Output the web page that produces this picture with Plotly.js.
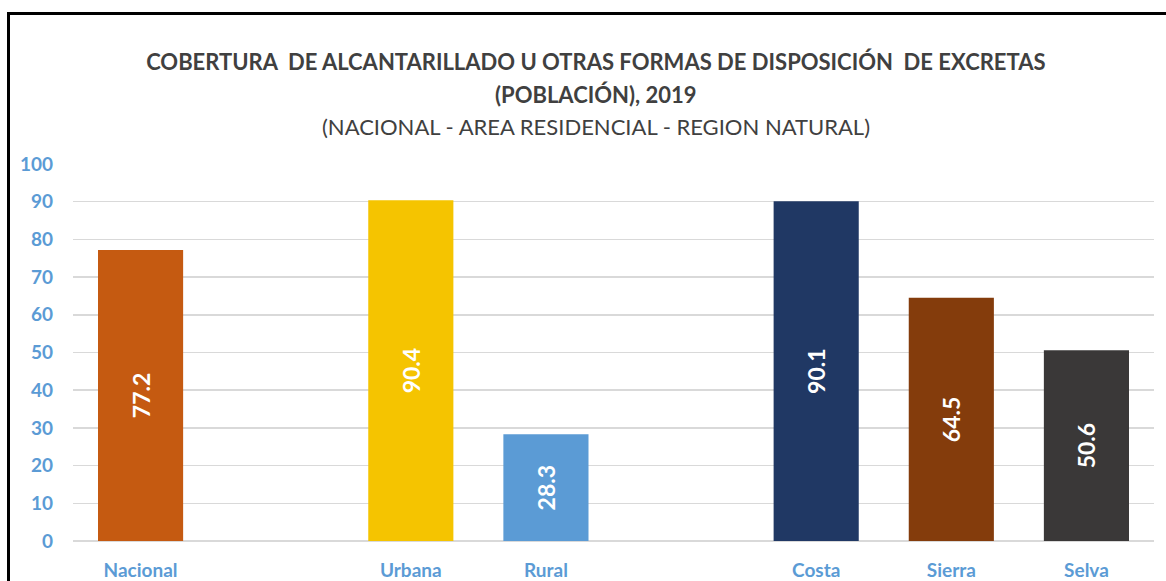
<!DOCTYPE html>
<html>
<head>
<meta charset="utf-8">
<script src="https://cdn.plot.ly/plotly-3.0.1.min.js"></script>
<style>
  html, body { margin: 0; padding: 0; background: #fff; overflow: hidden; }
  #chart { width: 1166px; height: 581px; }
  #frame { position: absolute; left: 7px; top: 12px; width: 1300px; height: 700px;
           border-left: 3px solid #000; border-top: 3px solid #000; pointer-events: none; }
</style>
</head>
<body>
<div id="chart"></div>
<div id="frame"></div>
<script>
// Data
const categories = ["Nacional", " ", "Urbana", "Rural", "  ", "Costa", "Sierra", "Selva"];
const barCategories = ["Nacional", "Urbana", "Rural", "Costa", "Sierra", "Selva"];
const barValues = [77.2, 90.4, 28.3, 90.1, 64.5, 50.6];
const barColors = ["#C55A11", "#F5C400", "#5B9BD5", "#203864", "#843C0C", "#3A3838"];
const yTicks = [0, 10, 20, 30, 40, 50, 60, 70, 80, 90, 100];

const titleLine1 = "COBERTURA\u00a0 DE ALCANTARILLADO U OTRAS FORMAS DE DISPOSICIÓN\u00a0 DE EXCRETAS";
const titleLine2 = "(POBLACIÓN), 2019";
const titleLine3 = "(NACIONAL - AREA RESIDENCIAL - REGION NATURAL)";

const FONT = "Lato, 'Open Sans', 'DejaVu Sans', sans-serif";
const BLUE = "#5B9BD5";
const TITLE_COLOR = "#404040";

const trace = {
  type: "bar",
  x: barCategories,
  y: barValues,
  marker: { color: barColors, line: { width: 0 } },
  text: barValues.map(v => v.toFixed(1)),
  texttemplate: "<b>%{text}</b>",
  textposition: "inside",
  insidetextanchor: "middle",
  textangle: -90,
  textfont: { family: FONT, size: 23, color: "#FFFFFF" },
  hoverinfo: "x+y",
  cliponaxis: false
};

const layout = {
  width: 1166,
  height: 581,
  paper_bgcolor: "#FFFFFF",
  plot_bgcolor: "#FFFFFF",
  margin: { l: 73, r: 12, t: 164, b: 40, pad: 0 },
  showlegend: false,
  bargap: 0.37,
  font: { family: FONT },
  title: {
    text: "<b>" + titleLine1 + "</b>",
    font: { family: FONT, size: 22, color: TITLE_COLOR },
    x: 0.511, xref: "container", xanchor: "center",
    y: 1 - 62 / 581, yref: "container", yanchor: "middle"
  },
  annotations: [
    {
      text: "<b>" + titleLine2 + "</b>",
      xref: "paper", yref: "paper",
      x: (596 - 73) / (1154 - 73), y: 1 + (164 - 95) / (541 - 164),
      xanchor: "center", yanchor: "middle", showarrow: false,
      font: { family: FONT, size: 22, color: TITLE_COLOR }
    },
    {
      text: titleLine3,
      xref: "paper", yref: "paper",
      x: (596 - 73) / (1154 - 73), y: 1 + (164 - 127) / (541 - 164),
      xanchor: "center", yanchor: "middle", showarrow: false,
      font: { family: FONT, size: 22, color: TITLE_COLOR }
    }
  ],
  xaxis: {
    type: "category",
    categoryorder: "array",
    categoryarray: categories,
    showgrid: false,
    showline: false,
    zeroline: false,
    ticks: "",
    tickfont: { family: FONT, size: 19, color: BLUE, weight: "bold" },
    ticklabelstandoff: 16,
    fixedrange: true
  },
  yaxis: {
    range: [0, 100],
    tickvals: yTicks,
    ticktext: yTicks.map(String),
    showgrid: true,
    gridcolor: "#D9D9D9",
    gridwidth: 1.5,
    zeroline: true,
    zerolinecolor: "#D9D9D9",
    zerolinewidth: 1.5,
    showline: false,
    ticks: "",
    tickfont: { family: FONT, size: 19, color: BLUE, weight: "bold" },
    ticklabelstandoff: 19,
    fixedrange: true
  }
};

Plotly.newPlot("chart", [trace], layout, { displayModeBar: false, staticPlot: true });
</script>
</body>
</html>
